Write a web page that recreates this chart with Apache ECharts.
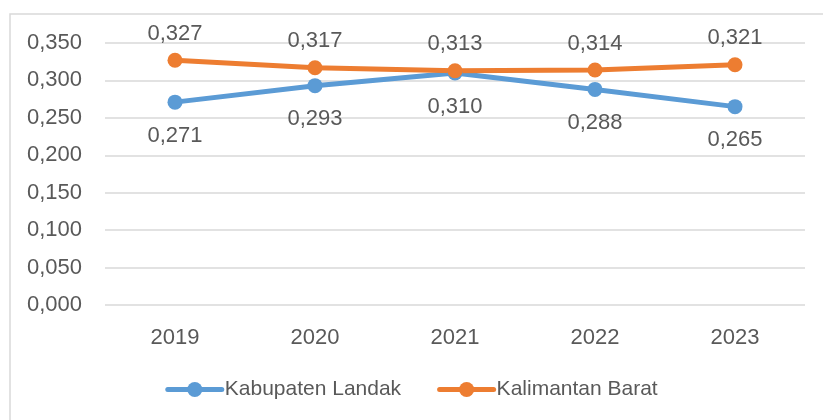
<!DOCTYPE html>
<html>
<head>
<meta charset="utf-8">
<script src="https://cdn.jsdelivr.net/npm/echarts@6/dist/echarts.min.js"></script>
<style>
  html, body { margin: 0; padding: 0; background: #fff; }
  #chart { width: 823px; height: 420px; }
</style>
</head>
<body>
<div id="chart"></div>
<script>
  // data
  const years = ['2019', '2020', '2021', '2022', '2023']
  const landak = [0.271, 0.293, 0.310, 0.288, 0.265]
  const kalbar = [0.327, 0.317, 0.313, 0.314, 0.321]

  const fmt = v => v.toFixed(3).replace('.', ',')
  const textColor = '#595959'
  const font = 'Liberation Sans'

  const chart = echarts.init(document.getElementById('chart'))
  chart.setOption({
    animation: false,
    graphic: [{
      type: 'rect',
      shape: { x: 10, y: 14, width: 850, height: 450 },
      style: { fill: 'none', stroke: '#D9D9D9', lineWidth: 1.5 },
      silent: true
    }],
    grid: { left: 105, right: 18, top: 43, bottom: 115 },
    legend: {
      bottom: 15,
      left: 'center',
      itemWidth: 54,
      itemHeight: 19,
      itemGap: 36,
      lineStyle: { width: 5, cap: 'round' },
      textStyle: { color: textColor, fontSize: 21, fontFamily: font, padding: [0, 0, 0, -2] },
      data: ['Kabupaten Landak', 'Kalimantan Barat']
    },
    xAxis: {
      type: 'category',
      data: years,
      axisLine: { show: false },
      axisTick: { show: false },
      axisLabel: { color: textColor, fontSize: 22, fontFamily: font, margin: 22 }
    },
    yAxis: {
      type: 'value',
      min: 0,
      max: 0.35,
      interval: 0.05,
      axisLine: { show: false },
      axisTick: { show: false },
      splitLine: { lineStyle: { color: '#D9D9D9', width: 1.5 } },
      axisLabel: { color: textColor, fontSize: 22, fontFamily: font, margin: 23, formatter: fmt }
    },
    series: [
      {
        name: 'Kabupaten Landak',
        type: 'line',
        data: landak,
        symbol: 'circle',
        symbolSize: 15,
        lineStyle: { color: '#5B9BD5', width: 5 },
        itemStyle: { color: '#5B9BD5' },
        label: {
          show: true, position: 'bottom', distance: 15,
          color: textColor, fontSize: 22, fontFamily: font,
          formatter: p => fmt(p.value)
        }
      },
      {
        name: 'Kalimantan Barat',
        type: 'line',
        data: kalbar,
        symbol: 'circle',
        symbolSize: 15,
        lineStyle: { color: '#ED7D31', width: 5 },
        itemStyle: { color: '#ED7D31' },
        label: {
          show: true, position: 'top', distance: 8,
          color: textColor, fontSize: 22, fontFamily: font,
          formatter: p => fmt(p.value)
        }
      }
    ]
  })
</script>
</body>
</html>
